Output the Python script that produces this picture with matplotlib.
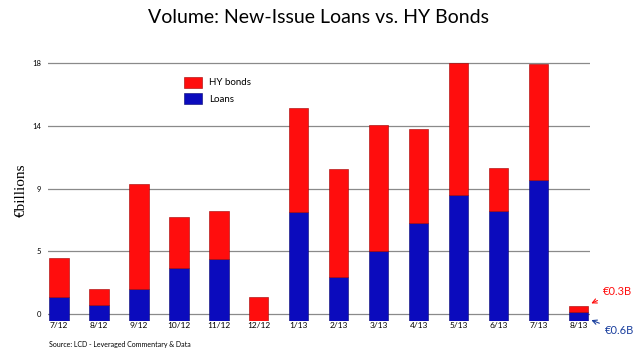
import numpy as np
import matplotlib.pyplot as plt

months = ["7/12", "8/12", "9/12", "10/12", "11/12", "12/12", "1/13",
          "2/13", "3/13", "4/13", "5/13", "6/13", "7/13", "8/13"]
loans = [1.7, 1.1, 2.3, 3.8, 4.4, 0.0, 7.8, 3.1, 5.0, 7.0, 9.0, 7.9, 10.1, 0.6]
hy_bonds = [2.8, 1.2, 7.5, 3.65, 3.5, 1.7, 7.5, 7.8, 9.05, 6.75, 9.5, 3.1, 8.35, 0.45]
y_ticks = [0, 4.5, 9, 13.5, 18]
y_tick_labels = ["0", "5", "9", "14", "18"]

red = "#ff0d0d"
blue = "#0b0bbd"
wall = 0.5  # back wall of the 3D chart sits a bit above the bar base

fig = plt.figure(figsize=(6.38, 3.59), dpi=100)
ax = fig.add_axes([0.0752, 0.1072, 0.8495, 0.7256])

x = np.arange(len(months))
ax.bar(x, loans, width=0.48, color=blue, edgecolor="#050570", linewidth=0.4,
       label="Loans", zorder=3)
ax.bar(x, hy_bonds, width=0.48, bottom=loans, color=red, edgecolor="#a00000",
       linewidth=0.4, label="HY bonds", zorder=3)

ax.set_xlim(-0.275, 13.28)
ax.set_ylim(0, 18.75)
ax.set_yticks(np.array(y_ticks) + wall)
ax.set_yticklabels(y_tick_labels, fontsize=5.5, family="Lato")
ax.set_xticks(x)
ax.set_xticklabels(months, fontsize=6, family="Lato")
ax.tick_params(axis="both", length=0)
ax.tick_params(axis="y", pad=5)
ax.tick_params(axis="x", pad=1)
ax.grid(axis="y", color="#8a8a8a", linewidth=0.9, zorder=0)
for s in ax.spines.values():
    s.set_visible(False)

ax.set_ylabel("€billions", family="Liberation Serif", fontsize=11, labelpad=3)

handles, labels = ax.get_legend_handles_labels()
ax.legend(handles[::-1], labels[::-1], loc="upper left",
          bbox_to_anchor=(0.235, 0.97), frameon=False,
          prop={"family": "Lato", "size": 7}, handlelength=1.8,
          handleheight=1.4, labelspacing=0.5)

fig.text(0.5, 0.95, "Volume: New-Issue Loans vs. HY Bonds", ha="center",
         va="center", fontsize=14, family="Lato")
fig.text(0.077, 0.04, "Source: LCD - Leveraged Commentary & Data",
         fontsize=5, family="Lato", va="center")

last = len(months) - 1
ax.annotate("€0.3B", xy=(last + 0.25, loans[last] + hy_bonds[last] + 0.1),
            xytext=(last + 0.6, 2.1), color=red, fontsize=8, family="Lato",
            va="center", arrowprops=dict(arrowstyle="->", color=red, lw=0.8))
ax.annotate("€0.6B", xy=(last + 0.25, 0.1), xytext=(last + 0.65, -0.75),
            color="#1a3f9e", fontsize=8, family="Lato", va="center",
            annotation_clip=False,
            arrowprops=dict(arrowstyle="->", color="#1a3f9e", lw=0.8))

fig.savefig("out.png", dpi=100)
